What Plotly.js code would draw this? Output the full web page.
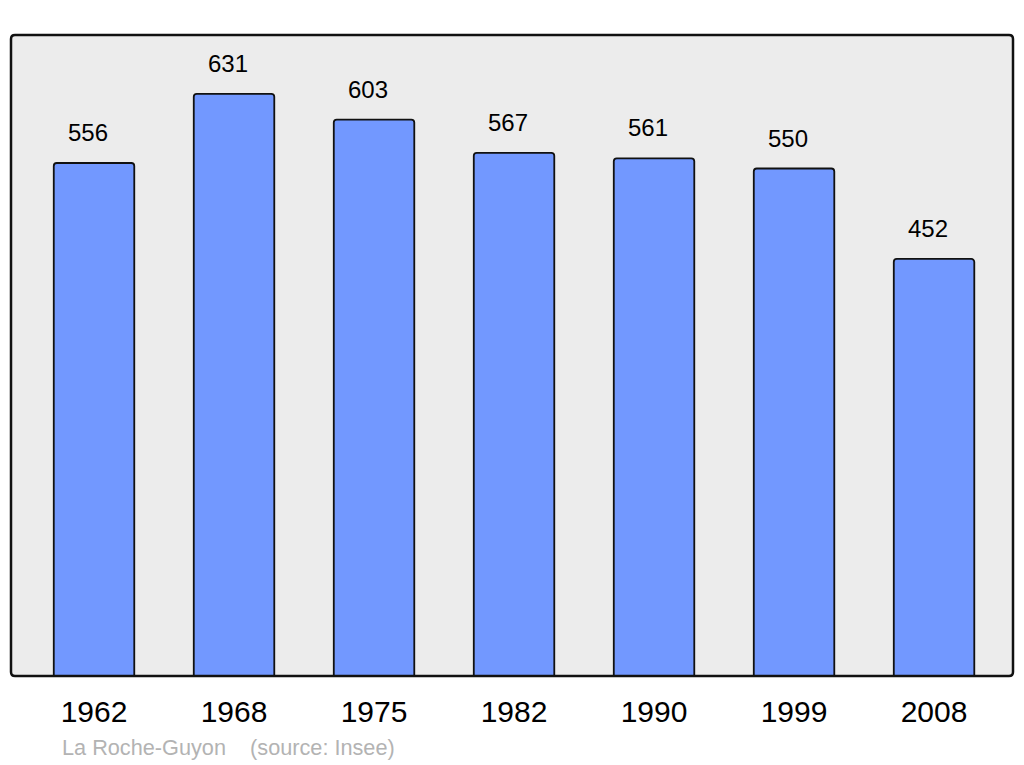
<!DOCTYPE html>
<html>
<head>
<meta charset="utf-8">
<script src="https://cdn.plot.ly/plotly-3.0.1.min.js"></script>
<style>html,body{margin:0;padding:0;background:#fff;}#chart{width:1024px;height:765px;}</style>
</head>
<body>
<div id="chart"></div>
<script>
const years = ['1962', '1968', '1975', '1982', '1990', '1999', '2008'];
const population = [556, 631, 603, 567, 561, 550, 452];
const caption = 'La Roche-Guyon\u00a0\u00a0\u00a0\u00a0(source: Insee)';

const W = 1024, H = 765;
const mL = 11, mR = 11, mT = 35, mB = 89;
const pw = W - mL - mR, ph = H - mT - mB;
const rx = 4 / pw, ry = 4 / ph;

const framePath = `M ${rx},0 L ${1 - rx},0 Q 1,0 1,${ry} L 1,${1 - ry} Q 1,1 ${1 - rx},1 L ${rx},1 Q 0,1 0,${1 - ry} L 0,${ry} Q 0,0 ${rx},0 Z`;

const annotations = years.map((y, i) => ({
  x: i, y: population[i], xref: 'x', yref: 'y',
  text: String(population[i]), showarrow: false,
  yanchor: 'bottom', yshift: 15, xshift: -6,
  font: {family: 'Liberation Sans, Arial, sans-serif', size: 24, color: '#000'}
}));
annotations.push({
  xref: 'paper', yref: 'paper', x: (60 - mL) / pw, y: (676 - 747) / ph,
  xanchor: 'left', yanchor: 'middle', showarrow: false, text: caption,
  font: {family: 'Liberation Sans, Arial, sans-serif', size: 21.7, color: '#b3b3b3'}
});

const trace = {
  type: 'bar', x: years, y: population, width: 0.575,
  marker: {color: '#7298ff', line: {color: '#111', width: 1.8}, cornerradius: 3},
  hoverinfo: 'none'
};

const layout = {
  width: W, height: H,
  margin: {l: mL, r: mR, t: mT, b: mB, pad: 0},
  paper_bgcolor: '#fff', plot_bgcolor: '#ececec',
  showlegend: false,
  font: {family: 'Liberation Sans, Arial, sans-serif', color: '#000'},
  xaxis: {
    type: 'category', range: [-0.593, 6.564], showgrid: false, zeroline: false,
    showline: false, ticks: 'outside', ticklen: 9, tickcolor: 'rgba(0,0,0,0)',
    tickfont: {size: 30, color: '#000'}, fixedrange: true
  },
  yaxis: {
    range: [0, 694.7], showgrid: false, zeroline: false, showline: false,
    showticklabels: false, ticks: '', fixedrange: true
  },
  shapes: [{
    type: 'path', xref: 'paper', yref: 'paper', path: framePath,
    line: {color: '#111', width: 2.5}, fillcolor: 'rgba(0,0,0,0)', layer: 'above'
  }],
  annotations: annotations
};

Plotly.newPlot('chart', [trace], layout, {displayModeBar: false, staticPlot: true});
</script>
</body>
</html>
